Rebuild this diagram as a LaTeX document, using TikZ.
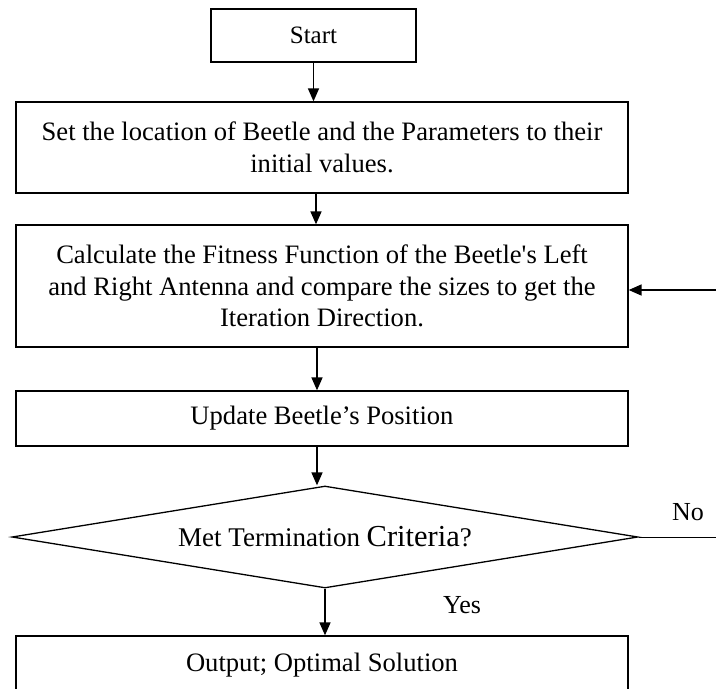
\documentclass[tikz,border=0pt]{standalone}
\usepackage{fontspec}
\setmainfont{Liberation Serif}[Ligatures=TeXOff]
\usetikzlibrary{shapes.geometric,arrows.meta,calc}
\begin{document}
\begin{tikzpicture}[x=1pt,y=-1pt,
  box/.style={draw, line width=1.3pt, inner sep=0pt, align=center,
    font=\fontsize{26.6}{31.5}\selectfont},
  decision/.style={draw, diamond, line width=1.3pt, inner sep=0pt, aspect=6,
    font=\fontsize{27}{31.5}\selectfont},
  lbl/.style={font=\fontsize{26}{31.5}\selectfont, inner sep=0pt},
  arr/.style={line width=1.6pt, -{Triangle[length=13pt,width=11pt]}}]
\useasboundingbox (0,0) rectangle (716,689);
\clip (0,0) rectangle (716,689);
\node[box, minimum width=205pt, minimum height=53pt, font=\fontsize{25}{31.5}\selectfont] (start) at (313.5,35.5) {Start};
\node[box, minimum width=612pt, minimum height=91pt] (b2) at (322,147.5)
  {Set the location of Beetle and the Parameters to their\\initial values.};
\node[box, minimum width=612pt, minimum height=122pt] (b3) at (322,286)
  {Calculate the Fitness Function of the Beetle's Left\\and Right Antenna and compare the sizes to get the\\Iteration Direction.};
\node[box, minimum width=612pt, minimum height=55pt] (b4) at (322,418.5)
  {Update Beetle’s Position};
\node[decision, minimum width=626pt, minimum height=102pt] (dia) at (325,537)
  {Met Termination {\fontsize{30.5}{31.5}\selectfont Criteria}?};
\node[box, minimum width=612pt, minimum height=58pt] (b5) at (322,665)
  {Output; Optimal Solution};
\node[lbl] (no) at (688,512) {No};
\node[lbl] (yes) at (462,605) {Yes};
\coordinate (fb) at (716,290);
\coordinate (noend) at (716,535);
\draw[arr] (start.south) -- (start.south |- b2.north);
\draw[arr] ($(b2.south)+(-6,0)$) -- ($(b2.south |- b3.north)+(-6,0)$);
\draw[arr] ($(b3.south)+(-5,0)$) -- ($(b3.south |- b4.north)+(-5,0)$);
\draw[arr] ($(b4.south)+(-5,0)$) -- ($(b4.south |- dia.north)+(-5,0)$);
\draw[arr] (dia.south) -- (dia.south |- b5.north);
\draw[arr] (fb) -- (b3.east |- fb);
\draw[line width=1pt] (dia.east) -- (dia.east -| noend);
\end{tikzpicture}
\end{document}
